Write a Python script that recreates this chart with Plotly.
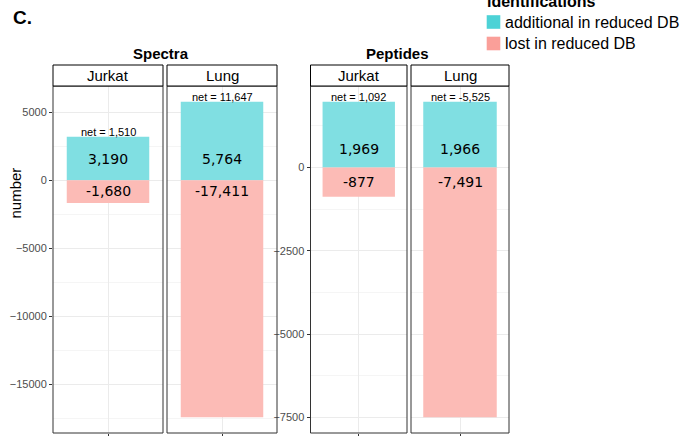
import math
import plotly.graph_objects as go

# ---------------- data ----------------
tissues = ["Jurkat", "Lung"]
groups = ["Spectra", "Peptides"]
spectra_additional = [3190, 5764]
spectra_lost = [-1680, -17411]
spectra_net = [1510, 11647]
peptides_additional = [1969, 1966]
peptides_lost = [-877, -7491]
peptides_net = [1092, -5525]
legend_labels = ["additional in reduced DB", "lost in reduced DB"]
legend_title = "identifications"
y_title = "number"
panel_letter = "C."

# ---------------- style ----------------
W, H = 693, 436
FONT = "Liberation Sans, Arial, sans-serif"
CYAN_BAR, PINK_BAR = "#80DFE2", "#FCBBB6"
CYAN_KEY, PINK_KEY = "#4DD2D6", "#FA9F99"
GRID, MINOR_GRID = "#EBEBEB", "#F5F5F5"
BORDER = "#333333"


def fx(p):
    return p / W


def fy(p):
    return 1 - p / H


def tick_text(v):
    s = f"{abs(int(v))}"
    return ("\u2212" + s) if v < 0 else s


panel_px = [(53, 163), (167, 277), (310.5, 407), (411, 509)]
panel_top, panel_bottom = 86, 433
strip_top = 65
title_px = {"Spectra": 161, "Peptides": 397}
label_shift = {"Spectra": (21, -11), "Peptides": (18, -15)}
dticks = {"Spectra": 5000, "Peptides": 2500}

data = {
    "Spectra": (spectra_additional, spectra_lost, spectra_net),
    "Peptides": (peptides_additional, peptides_lost, peptides_net),
}

fig = go.Figure()
annotations = []
shapes = []
layout = {}

idx = 0
for gi, g in enumerate(groups):
    add, lost, net = data[g]
    yname = "y" if gi == 0 else "y2"
    ykey = "yaxis" if gi == 0 else "yaxis2"
    lo = min(lost)
    hi = max(add)
    pad = 0.05 * (hi - lo)
    first_x = None
    for ti, t in enumerate(tissues):
        idx += 1
        xname = "x" if idx == 1 else f"x{idx}"
        xkey = "xaxis" if idx == 1 else f"xaxis{idx}"
        if first_x is None:
            first_x = xname
        x0p, x1p = panel_px[idx - 1]
        fig.add_trace(go.Bar(x=[t], y=[add[ti]], xaxis=xname, yaxis=yname,
                             marker=dict(color=CYAN_BAR, line=dict(width=0)),
                             width=0.9, showlegend=False, name=legend_labels[0]))
        fig.add_trace(go.Bar(x=[t], y=[lost[ti]], xaxis=xname, yaxis=yname,
                             marker=dict(color=PINK_BAR, line=dict(width=0)),
                             width=0.9, showlegend=False, name=legend_labels[1]))
        layout[xkey] = dict(
            domain=[fx(x0p), fx(x1p)], anchor=yname, type="category",
            range=[-0.6, 0.6], showticklabels=False, ticks="outside", ticklen=3,
            tickcolor=BORDER, showgrid=True, gridcolor=GRID, zeroline=False,
            showline=False, fixedrange=True,
        )
        # panel border
        shapes.append(dict(type="rect", xref=f"{xname} domain", yref=f"{yname} domain",
                           x0=0, x1=1, y0=0, y1=1, line=dict(color=BORDER, width=1),
                           fillcolor="rgba(0,0,0,0)", layer="above"))
        # strip
        shapes.append(dict(type="rect", xref=f"{xname} domain", yref="paper",
                           x0=0, x1=1, y0=fy(panel_top), y1=fy(strip_top),
                           line=dict(color="black", width=1), fillcolor="white"))
        annotations.append(dict(text=t, xref=f"{xname} domain", yref="paper", x=0.5,
                                y=fy((panel_top + strip_top) / 2), showarrow=False,
                                font=dict(family=FONT, size=15, color="black"),
                                xanchor="center", yanchor="middle"))
        # value labels
        up, down = label_shift[g]
        annotations.append(dict(text=f"{add[ti]:,}", x=t, y=0, xref=xname, yref=yname,
                                showarrow=False, yanchor="middle", yshift=up,
                                font=dict(family="DejaVu Sans", size=14, color="black")))
        annotations.append(dict(text=f"{lost[ti]:,}", x=t, y=0, xref=xname, yref=yname,
                                showarrow=False, yanchor="middle", yshift=down,
                                font=dict(family="DejaVu Sans", size=14, color="black")))
        annotations.append(dict(text=f"net = {net[ti]:,}", x=t, y=add[ti], xref=xname,
                                yref=yname, showarrow=False, yanchor="bottom", yshift=-3,
                                font=dict(family=FONT, size=11, color="black")))
    rng = [lo - pad, hi + pad]
    d = dticks[g]
    tv = [k * d for k in range(math.ceil(rng[0] / d), math.floor(rng[1] / d) + 1)]
    layout[ykey] = dict(
        domain=[fy(panel_bottom), fy(panel_top)], anchor=first_x,
        range=rng, tickmode="array", tickvals=tv, ticktext=[tick_text(v) for v in tv],
        ticks="outside", ticklen=3, tickcolor=BORDER,
        tickfont=dict(family=FONT, size=11, color="#4D4D4D"),
        showgrid=True, gridcolor=GRID, zeroline=False, showline=False,
        minor=dict(tickmode="linear", tick0=d / 2, dtick=d, showgrid=True,
                   gridcolor=MINOR_GRID),
        fixedrange=True,
    )
    annotations.append(dict(text=f"<b>{g}</b>", xref="paper", yref="paper",
                            x=fx(title_px[g]), y=fy(53), showarrow=False,
                            xanchor="center", yanchor="middle",
                            font=dict(family=FONT, size=15, color="black")))

# y-axis title
annotations.append(dict(text=y_title, xref="paper", yref="paper", x=fx(15.5), y=fy(193),
                        textangle=-90, showarrow=False, xanchor="center", yanchor="middle",
                        font=dict(family=FONT, size=15, color="black")))

# legend (drawn manually to match key/text spacing)
annotations.append(dict(text=f"<b>{legend_title}</b>", xref="paper", yref="paper",
                        x=fx(485), y=fy(2), xanchor="left", yanchor="middle",
                        showarrow=False, font=dict(family=FONT, size=16, color="black")))
for k, (lab, col, yc) in enumerate(zip(legend_labels, [CYAN_KEY, PINK_KEY], [22, 43.5])):
    shapes.append(dict(type="rect", xref="paper", yref="paper",
                       x0=fx(486.7), x1=fx(500.3), y0=fy(yc + 6.8), y1=fy(yc - 6.8),
                       line=dict(width=0), fillcolor=col))
    annotations.append(dict(text=lab, xref="paper", yref="paper", x=fx(502.5), y=fy(yc),
                            xanchor="left", yanchor="middle", showarrow=False,
                            font=dict(family=FONT, size=16, color="black")))

annotations.append(dict(text=f"<b>{panel_letter}</b>", xref="paper", yref="paper",
                        x=fx(11), y=fy(17), xanchor="left", yanchor="middle",
                        showarrow=False, font=dict(family=FONT, size=19, color="black")))

fig.update_layout(
    width=W, height=H, barmode="relative",
    margin=dict(l=0, r=0, t=0, b=0, autoexpand=False),
    paper_bgcolor="white", plot_bgcolor="white",
    showlegend=False, annotations=annotations, shapes=shapes,
    font=dict(family=FONT), **layout,
)

fig.write_html("out.html")
